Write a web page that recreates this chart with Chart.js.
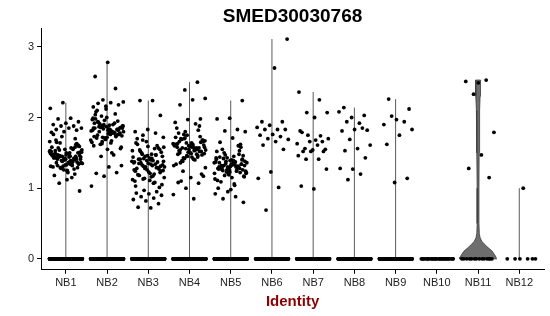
<!DOCTYPE html>
<html>
<head>
<meta charset="utf-8">
<title>SMED30030768</title>
<script src="https://cdn.jsdelivr.net/npm/chart.js@4.4.1/dist/chart.umd.min.js"></script>
<style>
  html, body { margin: 0; padding: 0; background: #ffffff; }
  #wrap { width: 550px; height: 316px; }
</style>
</head>
<body>
<div id="wrap"><canvas id="chart" width="550" height="316"></canvas></div>
<script>
/* Violin + jitter plot of SMED30030768 expression by cluster.
   Values (nonzero cells only;
   zero cells are given as a count per cluster). */

const categories = ['NB1', 'NB2', 'NB3', 'NB4', 'NB5', 'NB6', 'NB7', 'NB8', 'NB9', 'NB10', 'NB11', 'NB12'];
const yTicks = [0, 1, 2, 3];

// cells with zero expression per cluster (the black band at y = 0)
const zeroCounts = [300, 300, 300, 300, 300, 200, 200, 200, 180, 30, 14, 6];

const nb1 = [
  2.21, 2.13, 1.99, 1.98, 1.94, 1.92, 1.90, 1.88, 1.88, 1.85, 1.85, 1.83, 1.82, 1.80, 1.79,
  1.15, 1.07, 0.96, 1.12, 1.18, 1.20,
  1.45, 1.52, 1.38, 1.41, 1.60, 1.33, 1.47, 1.55, 1.29, 1.44,
  1.36, 1.49, 1.62, 1.40, 1.31, 1.57, 1.46, 1.35, 1.50, 1.43,
  1.27, 1.39, 1.54, 1.48, 1.65, 1.37, 1.42, 1.58, 1.32, 1.46,
  1.51, 1.24, 1.44, 1.70, 1.39, 1.53, 1.34, 1.47, 1.61, 1.41,
  1.30, 1.56, 1.45, 1.36, 1.49, 1.68, 1.42, 1.26, 1.52, 1.38,
  1.44, 1.59, 1.33, 1.48, 1.40, 1.73, 1.35, 1.50, 1.43, 1.29,
  1.55, 1.46, 1.37, 1.64, 1.41, 1.22, 1.53, 1.45, 1.31, 1.49,
  1.39, 1.57, 1.34, 1.47, 1.76, 1.42, 1.28, 1.51, 1.44, 1.36,
  1.63, 1.40, 1.48, 1.33, 1.54, 1.46, 1.25, 1.43, 1.58, 1.38,
  1.66, 1.45, 1.32, 1.50, 1.41
];
const nb2 = [
  2.78, 2.58, 2.41, 2.25, 2.22, 2.21, 2.20, 2.18, 2.16, 2.15,
  1.47, 1.45, 1.32, 1.30, 1.21, 1.22, 1.17, 1.03, 1.50,
  1.80, 1.85, 1.72, 1.92, 1.78, 1.66, 1.88, 1.83, 1.75, 1.95,
  1.70, 1.82, 1.90, 1.62, 1.86, 1.77, 1.98, 1.73, 1.84, 1.68,
  1.81, 1.93, 1.76, 1.87, 1.60, 1.79, 2.02, 1.74, 1.89, 1.71,
  1.83, 1.96, 1.65, 1.80, 1.91, 1.78, 1.55, 1.85, 2.05, 1.72,
  1.88, 1.76, 1.94, 1.82, 1.69, 1.99, 1.79, 1.86, 1.58, 1.84,
  2.08, 1.75, 1.90, 1.81, 1.67, 1.87, 1.77, 2.00, 1.73, 1.92,
  1.63, 1.85, 1.79, 2.10, 1.83, 1.71, 1.97, 1.78, 1.89, 1.56,
  1.82, 2.04, 1.74, 1.88, 1.80, 1.64, 1.93, 1.76, 2.12, 1.85
];
const nb3 = [
  2.24, 2.24, 2.03, 1.83, 1.80, 1.78, 1.75, 1.72,
  0.72, 0.73, 0.78, 0.82, 0.84, 0.86, 0.88, 0.90, 0.92, 0.93, 0.95, 0.97,
  1.30, 1.42, 1.18, 1.55, 1.26, 1.37, 1.08, 1.48, 1.33, 1.21,
  1.62, 1.29, 1.45, 1.12, 1.39, 1.52, 1.24, 1.35, 1.03, 1.47,
  1.31, 1.58, 1.16, 1.41, 1.27, 1.66, 1.36, 1.20, 1.50, 1.05,
  1.43, 1.28, 1.60, 1.14, 1.38, 1.32, 1.54, 1.22, 1.46, 1.10,
  1.34, 1.68, 1.25, 1.40, 1.19, 1.57, 1.30, 1.44, 1.07, 1.36,
  1.51, 1.23, 1.64, 1.29, 1.42, 1.15, 1.48, 1.35, 1.01, 1.39,
  1.26, 1.56, 1.33, 1.45, 1.11, 1.70, 1.37, 1.28, 1.53, 1.17,
  1.41, 1.31, 1.59, 1.24, 1.47, 1.13, 1.38, 1.34
];
const nb4 = [
  2.50, 2.39, 2.27, 2.25, 2.18, 1.98, 1.97, 1.93, 1.91,
  1.24, 1.17, 1.15, 1.08, 1.07, 1.00, 0.91, 0.85, 1.10, 1.20,
  1.55, 1.62, 1.48, 1.70, 1.58, 1.44, 1.66, 1.52, 1.75, 1.60,
  1.40, 1.57, 1.68, 1.50, 1.63, 1.46, 1.80, 1.54, 1.59, 1.36,
  1.65, 1.51, 1.72, 1.56, 1.43, 1.61, 1.49, 1.78, 1.57, 1.64,
  1.32, 1.53, 1.69, 1.47, 1.60, 1.85, 1.55, 1.42, 1.67, 1.58,
  1.50, 1.73, 1.45, 1.62, 1.54, 1.38, 1.66, 1.59, 1.48, 1.82,
  1.56, 1.63, 1.41, 1.70, 1.52, 1.60, 1.34, 1.57, 1.76, 1.49,
  1.64, 1.53, 1.88, 1.46, 1.61, 1.55, 1.39, 1.68, 1.51, 1.58,
  1.44, 1.71, 1.29, 1.62, 1.54
];
const nb5 = [
  2.24, 1.99, 1.98, 1.83, 1.81, 1.80, 1.71, 1.65, 1.62,
  0.95, 0.92, 0.88, 0.85, 0.80, 0.98, 1.00,
  1.30, 1.38, 1.22, 1.45, 1.27, 1.34, 1.19, 1.41, 1.25, 1.50,
  1.32, 1.15, 1.36, 1.28, 1.43, 1.21, 1.33, 1.55, 1.26, 1.39,
  1.11, 1.31, 1.47, 1.24, 1.35, 1.29, 1.58, 1.20, 1.37, 1.30,
  1.42, 1.17, 1.34, 1.27, 1.48, 1.23, 1.36, 1.06, 1.32, 1.40,
  1.26, 1.52, 1.29, 1.18, 1.38, 1.33, 1.44, 1.22, 1.30, 1.13,
  1.37, 1.25, 1.46, 1.31, 1.28, 1.60, 1.35, 1.21, 1.39, 1.09,
  1.34, 1.27, 1.43, 1.24, 1.32, 1.16, 1.40, 1.30, 1.53, 1.26,
  1.36, 1.04, 1.29, 1.41, 1.23
];
const nb6 = [3.11, 2.70, 1.94, 1.94, 1.89, 1.86, 1.83, 1.83, 1.83, 1.76, 1.75, 1.73,
             1.70, 1.69, 1.66, 1.61, 1.55, 1.23, 1.14, 1.01, 0.69];
const nb7 = [2.36, 2.25, 2.07, 2.07, 2.00, 1.79, 1.66, 1.66, 1.63, 1.61, 1.56, 1.55,
             1.54, 1.81, 1.74, 1.75, 1.70, 1.68, 1.52, 1.52, 1.52, 1.46, 1.41, 1.41,
             1.27, 0.99, 1.03];
const nb8 = [2.14, 2.03, 2.00, 2.08, 1.92, 1.94, 1.82, 1.83, 1.81, 1.85, 1.69, 1.61,
             1.56, 1.53, 1.43, 1.27, 1.28, 1.20, 1.12];
const nb9 = [2.26, 2.12, 1.97, 1.90, 1.94, 2.02, 1.83, 1.75, 1.62, 1.14, 1.08];
const nb10 = [];
const nb11 = [2.49, 2.51, 2.53, 2.33, 1.79, 1.47, 1.28, 1.15];
const nb12 = [1.00];

// NB11 violin outline: expression level and half width (in category units)
const nb11ViolinLevel = [0, 0.02, 0.06, 0.11, 0.16, 0.21, 0.25, 0.30, 0.36, 0.50, 1.00, 1.50, 1.80, 2.10, 2.30, 2.45, 2.53];
const nb11ViolinHalfWidth = [0.45, 0.44, 0.40, 0.34, 0.24, 0.15, 0.09, 0.05, 0.03, 0.022, 0.022, 0.026, 0.035, 0.04, 0.05, 0.06, 0.06];

const groups = [nb1, nb2, nb3, nb4, nb5, nb6, nb7, nb8, nb9, nb10, nb11, nb12];

/* ---------------- build datasets ---------------- */

// evenly spread jitter (stands in for geom_jitter's random offsets)
const JITTER = 0.4;
function jitter(k, seed) {
  return (((k * 0.6180339887 + seed) % 1) - 0.5) * 2 * JITTER;
}

const points = [];
groups.forEach((vals, g) => {
  const cx = g + 1;
  for (let k = 0; k < zeroCounts[g]; k++) {
    points.push({ x: cx + jitter(k, 0.13 + g * 0.07), y: 0 });
  }
  vals.forEach((v, k) => {
    points.push({ x: cx + jitter(k, 0.41 + g * 0.11), y: v });
  });
});

const violinSets = [];
groups.forEach((vals, g) => {
  const cx = g + 1;
  if (!vals.length) return;
  const top = Math.max(...vals);
  let outline;
  if (g === 10) {
    const right = nb11ViolinLevel.map((lv, i) => ({ x: cx + nb11ViolinHalfWidth[i], y: lv }));
    const left = nb11ViolinLevel.map((lv, i) => ({ x: cx - nb11ViolinHalfWidth[i], y: lv })).reverse();
    outline = right.concat(left);
    outline.push(right[0]);
  } else {
    outline = [{ x: cx, y: 0 }, { x: cx, y: top }];
  }
  violinSets.push({
    type: 'line',
    data: outline,
    order: 2,
    borderColor: g === 10 ? '#3a3a3a' : '#5a5a5a',
    borderWidth: g === 10 ? 0.8 : 1,
    backgroundColor: '#6e6e6e',
    fill: g === 10 ? 'shape' : false,
    tension: 0,
    pointRadius: 0,
    showLine: true
  });
});

const FONT = "'Liberation Sans', Arial, Helvetica, sans-serif";

new Chart(document.getElementById('chart'), {
  type: 'scatter',
  data: {
    datasets: [{
      data: points,
      order: 1,
      pointRadius: 1.9,
      pointBorderWidth: 0,
      backgroundColor: '#000000',
      borderColor: '#000000'
    }].concat(violinSets)
  },
  options: {
    responsive: false,
    animation: false,
    events: [],
    layout: { padding: { left: 25, right: 6, top: 0, bottom: 5 } },
    plugins: {
      legend: { display: false },
      tooltip: { enabled: false },
      title: {
        display: true,
        text: 'SMED30030768',
        fullSize: false,
        color: '#000000',
        font: { family: FONT, size: 19, weight: 'bold' },
        padding: { top: 5, bottom: 1 }
      }
    },
    scales: {
      x: {
        type: 'linear',
        min: 0.4,
        max: 12.6,
        afterBuildTicks: (scale) => { scale.ticks = categories.map((c, i) => ({ value: i + 1 })); },
        ticks: {
          autoSkip: false,
          maxRotation: 0,
          padding: 3,
          color: '#222222',
          font: { family: FONT, size: 11 },
          callback: (v) => categories[Math.round(v) - 1]
        },
        grid: { drawOnChartArea: false, drawTicks: true, tickLength: 4, color: '#000000' },
        border: { display: true, color: '#000000', width: 1 },
        title: {
          display: true,
          text: 'Identity',
          color: '#8b0000',
          font: { family: FONT, size: 15, weight: 'bold' },
          padding: { top: 0, bottom: 0 }
        }
      },
      y: {
        type: 'linear',
        min: -0.155,
        max: 3.255,
        afterBuildTicks: (scale) => { scale.ticks = yTicks.map((v) => ({ value: v })); },
        ticks: {
          padding: 3,
          color: '#222222',
          font: { family: FONT, size: 11 }
        },
        grid: { drawOnChartArea: false, drawTicks: true, tickLength: 4, color: '#000000' },
        border: { display: true, color: '#000000', width: 1 }
      }
    }
  }
});
</script>
</body>
</html>
